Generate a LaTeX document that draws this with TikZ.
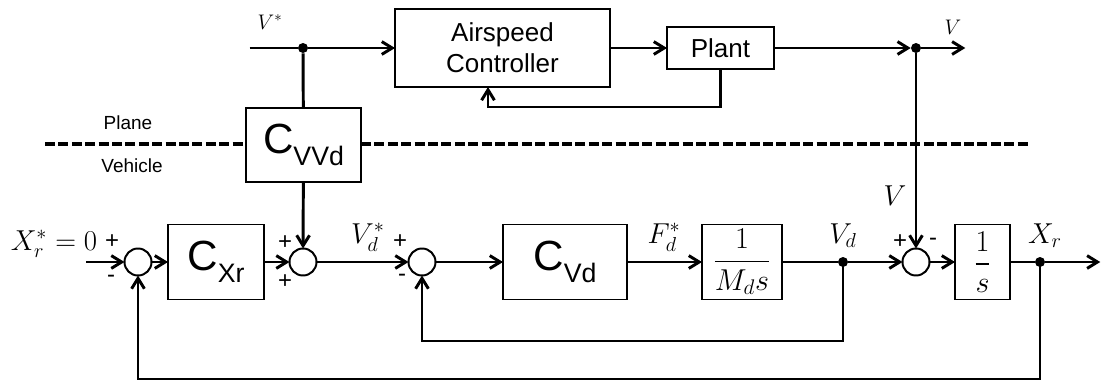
\RequirePackage{fix-cm}
\documentclass[tikz,border=0pt]{standalone}
\usepackage{amsmath}
\usepackage[no-math]{fontspec}
\setmainfont{Liberation Sans}
\usetikzlibrary{arrows.meta, positioning, calc}

\newcommand{\ctrl}[1]{{\fontsize{30}{32}\selectfont C}\raisebox{-8.5pt}{\fontsize{19}{20}\selectfont #1}}

\begin{document}
\begin{tikzpicture}[
  box/.style={rectangle, draw, line width=1.4pt, minimum height=1.875cm, inner sep=0pt, outer sep=0pt, align=center},
  sum/.style={circle, draw, line width=1.4pt, minimum size=0.675cm, inner sep=0pt, outer sep=0pt},
  dot/.style={circle, fill, minimum size=0.25cm, inner sep=0pt},
  arrow/.style={-{Straight Barb[length=0.26cm, width=0.32cm]}, line width=2.1pt},
  line/.style={line width=2.1pt},
  divider/.style={line width=2.2pt, dash pattern=on 0.25cm off 0.085cm},
  frac/.style={font=\fontsize{21.5}{23}\selectfont},
  sign/.style={font=\fontsize{17}{19}\selectfont},
  sig/.style={font=\fontsize{20.5}{22}\selectfont, anchor=base},
  small sig/.style={font=\fontsize{15}{17}\selectfont},
  tag/.style={font=\fontsize{13.5}{15}\selectfont}
]
\useasboundingbox (0,0) rectangle (27.525,-9.575);

% Vehicle loop
\node[sum] (s1) at (3.45,-6.55) {};
\node[box, minimum width=2.4cm] (cxr) at (5.4,-6.55) {\ctrl{Xr}};
\node[sum] (s2) at (7.575,-6.55) {};
\node[sum] (s3) at (10.55,-6.55) {};
\node[box, minimum width=3.1cm] (cvd) at (14.125,-6.55) {\ctrl{Vd}};
\node[box, minimum width=2cm, frac] (mds) at (18.55,-6.55) {$\dfrac{1}{M_d s}$};
\node[dot] (vd) at (21.075,-6.55) {};
\node[sum] (s4) at (22.9,-6.55) {};
\node[box, minimum width=1.375cm, frac] (integ) at (24.5625,-6.55) {$\dfrac{1}{s}$};
\node[dot] (xr) at (26.0,-6.55) {};
\coordinate[right=1.375cm of xr] (xout);
\coordinate[left=0.9625cm of s1] (xin);

\draw[arrow] (xin) -- (s1);
\draw[arrow] (s1) -- (cxr);
\draw[arrow] (cxr) -- (s2);
\draw[arrow] (s2) -- (s3);
\draw[arrow] (s3) -- (cvd);
\draw[arrow] (cvd) -- (mds);
\draw[line] (mds) -- (vd);
\draw[arrow] (vd) -- (s4);
\draw[arrow] (s4) -- (integ);
\draw[line] (integ) -- (xr);
\draw[arrow] (xr) -- (xout);

% feedback paths
\draw[arrow] (vd.center) -- ++(0,-1.975) -| (s3);
\draw[arrow] (xr.center) -- ++(0,-2.925) -| (s1);

% Plane loop
\node[box, minimum width=5.375cm, minimum height=1.95cm, font=\fontsize{18.5}{22}\selectfont] (asc) at (12.5625,-1.2) {Airspeed\\Controller};
\node[box, minimum width=2.675cm, minimum height=1.05cm, font=\fontsize{18.5}{22}\selectfont] (plant) at (18.0125,-1.2) {Plant};
\node[dot] (vtop) at (s4 |- plant) {};
\coordinate[right=1.1cm of vtop] (vout);
\node[dot] (vsp) at (s2 |- asc) {};
\coordinate[left=1.2cm of vsp] (vin);
\node[box, minimum width=2.875cm, minimum height=1.85cm] (cvvd) at (7.5875,-3.625) {\ctrl{VVd}};

\draw[line] (vin) -- (vsp);
\draw[arrow] (vsp) -- (asc);
\draw[arrow] (asc) -- (plant);
\draw[arrow] (plant) -- (vtop);
\draw[arrow] (vtop) -- (vout);
\draw[arrow] (plant.south) -- ++(0,-0.95) -| ([xshift=-0.3625cm]asc.south);
\draw[line] (vsp) -- (cvvd);
\draw[arrow] (cvvd) -- (s2);
\draw[arrow] (vtop) -- (s4);

% Plane / Vehicle divider
\coordinate (dl) at (1.125,-3.6);
\coordinate (dr) at (25.75,-3.6);
\draw[divider] (dl) -- (dl -| cvvd.west);
\draw[divider] (cvvd.east |- dr) -- (dr);
\node[tag] (plane) at (3.2,-3.075) {Plane};
\node[tag] (vehicle) at (3.3,-4.15) {Vehicle};

% Labels
\node[small sig] (vstarlbl) at (6.75,-0.55) {$V^*$};
\node[small sig] (vlbl) at (23.825,-0.675) {$V$};
\node[sig] (xrstar) at (1.35,-6.25) {$X_r^* = 0$};
\node[sig] (vdstar) at (9.2,-6.08) {$V_d^*$};
\node[sig] (fdstar) at (16.6,-6.08) {$F_d^*$};
\node[sig] (vdlbl) at (21.075,-6.08) {$V_d$};
\node[sig] (vbig) at (22.375,-5.125) {$V$};
\node[sig] (xrlbl) at (26.125,-6.08) {$X_r$};

% Signs
\node[sign] (p1) at (2.8,-6.05) {+};
\node[sign] (m1) at (2.775,-6.975) {-};
\node[sign] (p2a) at (7.125,-6.075) {+};
\node[sign] (p2b) at (7.125,-7.05) {+};
\node[sign] (p3) at (10.0,-6.05) {+};
\node[sign] (m3) at (10.05,-6.95) {-};
\node[sign] (p4) at (22.5,-6.05) {+};
\node[sign] (m4) at (23.325,-6.05) {-};

\end{tikzpicture}
\end{document}
